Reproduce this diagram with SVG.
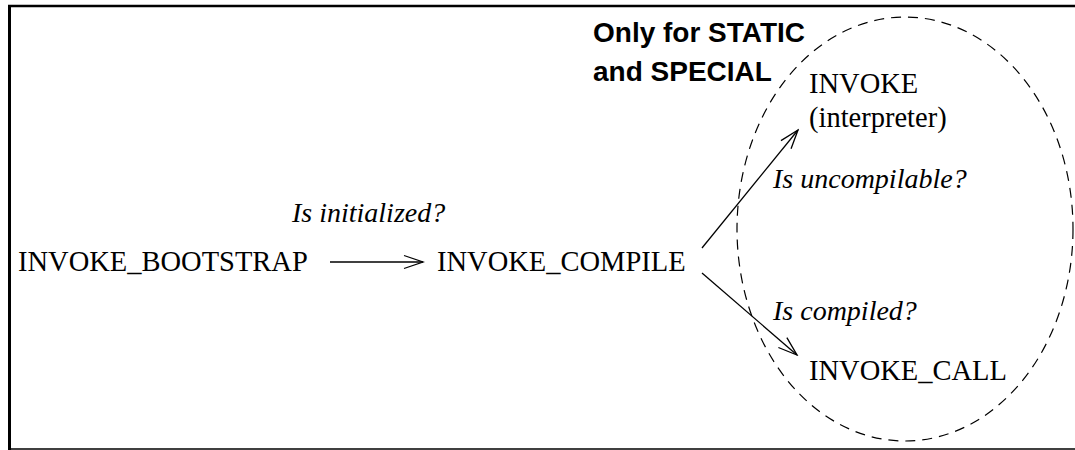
<svg xmlns="http://www.w3.org/2000/svg" width="1075" height="450" viewBox="0 0 1075 450">
  <style>
    .state { font-family: "Liberation Serif", "Times New Roman", serif; font-size: 28.5px; fill: #000; }
    .cond { font-family: "Liberation Serif", "Times New Roman", serif; font-size: 28px; font-style: italic; fill: #000; }
    .note { font-family: "Liberation Sans", Arial, sans-serif; font-size: 28px; font-weight: bold; fill: #000; }
    .edge { fill: none; stroke: #000; stroke-width: 1.3; marker-end: url(#open); }
    .frame { stroke: #000; fill: none; }
    .region { fill: none; stroke: #000; stroke-width: 1.2; stroke-dasharray: 10 7; }
  </style>
  <defs>
    <marker id="open" markerUnits="userSpaceOnUse" orient="auto" viewBox="-22 -10 24 20" markerWidth="24" markerHeight="20" refX="0" refY="0">
      <path d="M -19 -6.5 L 0 0 L -19 6.5" fill="none" stroke="#000" stroke-width="1.3"/>
    </marker>
  </defs>

  <rect width="1075" height="450" fill="#fff"/>

  <!-- outer frame -->
  <g id="frame">
    <line class="frame" x1="8" y1="6" x2="1075" y2="6" stroke-width="2.5"/>
    <line class="frame" x1="9.5" y1="5" x2="9.5" y2="450" stroke-width="3"/>
    <line class="frame" x1="8" y1="449" x2="1075" y2="449" stroke-width="1.6"/>
  </g>

  <!-- dashed region for STATIC / SPECIAL -->
  <g id="special-region">
    <ellipse class="region" cx="905" cy="229" rx="168" ry="212"/>
    <text class="note" x="593" y="42">Only for STATIC</text>
    <text class="note" x="593" y="81">and SPECIAL</text>
  </g>

  <g id="connectors">
    <line class="edge" x1="330" y1="262" x2="423" y2="262"/>
    <line class="edge" x1="702" y1="248" x2="798" y2="130"/>
    <line class="edge" x1="702" y1="273" x2="797" y2="355"/>
    <text class="cond" x="292" y="222">Is initialized?</text>
    <text class="cond" x="773" y="188">Is uncompilable?</text>
    <text class="cond" x="773" y="320">Is compiled?</text>
  </g>

  <g id="invoke-bootstrap">
    <text class="state" x="18" y="271">INVOKE_BOOTSTRAP</text>
  </g>
  <g id="invoke-compile">
    <text class="state" x="437" y="271">INVOKE_COMPILE</text>
  </g>
  <g id="invoke-interpreter">
    <text class="state" x="809" y="93">INVOKE</text>
    <text class="state" x="809" y="127">(interpreter)</text>
  </g>
  <g id="invoke-call">
    <text class="state" x="809" y="380">INVOKE_CALL</text>
  </g>
</svg>
